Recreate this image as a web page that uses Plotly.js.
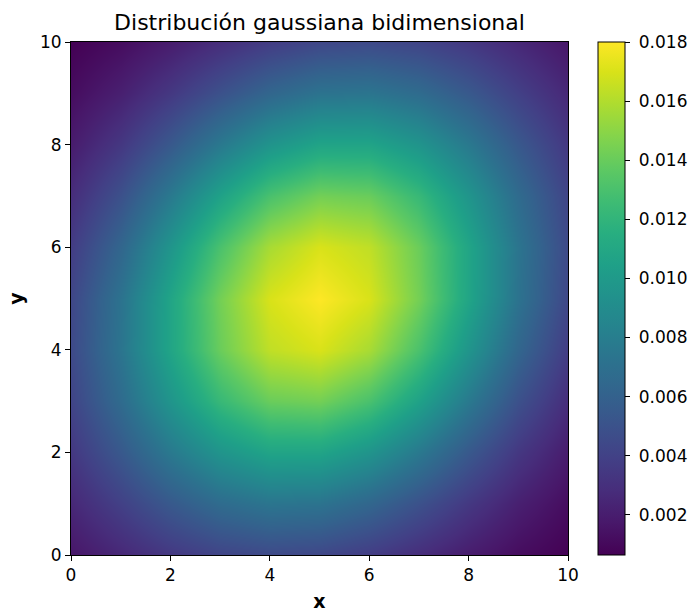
<!DOCTYPE html>
<html>
<head>
<meta charset="utf-8">
<script src="https://cdn.plot.ly/plotly-3.0.1.min.js"></script>
<style>html,body{margin:0;padding:0;background:#fff;}#chart{width:694px;height:612px;}</style>
</head>
<body>
<div id="chart"></div>
<script>
// grid coordinates
const xVals = [0,1,2,3,4,5,6,7,8,9,10];
const yVals = [0,1,2,3,4,5,6,7,8,9,10];
// density values, rows = y (0..10), cols = x (0..10)
const row0  = [0.001664,0.002531,0.003432,0.004152,0.004481,0.004314,0.003704,0.002837,0.001938,0.001181,0.000642];
const row1  = [0.002531,0.003922,0.005421,0.006685,0.007354,0.007215,0.006314,0.004929,0.003432,0.002132,0.001181];
const row2  = [0.003432,0.005421,0.007639,0.009601,0.010763,0.010763,0.009601,0.007639,0.005421,0.003432,0.001938];
const row3  = [0.004152,0.006685,0.009601,0.012298,0.014052,0.014322,0.013020,0.010560,0.007639,0.004929,0.002837];
const row4  = [0.004481,0.007354,0.010763,0.014052,0.016365,0.017000,0.015753,0.013020,0.009601,0.006314,0.003704];
const row5  = [0.004314,0.007215,0.010763,0.014322,0.017000,0.018000,0.017000,0.014322,0.010763,0.007215,0.004314];
const row6  = [0.003704,0.006314,0.009601,0.013020,0.015753,0.017000,0.016365,0.014052,0.010763,0.007354,0.004481];
const row7  = [0.002837,0.004929,0.007639,0.010560,0.013020,0.014322,0.014052,0.012298,0.009601,0.006685,0.004152];
const row8  = [0.001938,0.003432,0.005421,0.007639,0.009601,0.010763,0.010763,0.009601,0.007639,0.005421,0.003432];
const row9  = [0.001181,0.002132,0.003432,0.004929,0.006314,0.007215,0.007354,0.006685,0.005421,0.003922,0.002531];
const row10 = [0.000642,0.001181,0.001938,0.002837,0.003704,0.004314,0.004481,0.004152,0.003432,0.002531,0.001664];
const zRows = [row0,row1,row2,row3,row4,row5,row6,row7,row8,row9,row10];

const axisTicks = [0,2,4,6,8,10];
const cbTickVals = [0.002,0.004,0.006,0.008,0.010,0.012,0.014,0.016,0.018];
const cbTickText = ["0.002","0.004","0.006","0.008","0.010","0.012","0.014","0.016","0.018"];

const FONT = "DejaVu Sans, sans-serif";

const trace = {
  type: 'heatmap',
  x: xVals,
  y: yVals,
  z: zRows,
  zsmooth: 'best',
  colorscale: 'Viridis',
  colorbar: {
    x: 1.0604, xanchor: 'left', xref: 'paper',
    y: 0, yanchor: 'bottom', yref: 'paper',
    len: 1, lenmode: 'fraction',
    thickness: 27, thicknessmode: 'pixels',
    outlinewidth: 1, outlinecolor: '#000',
    ticks: 'outside', ticklen: 5, tickwidth: 1, tickcolor: '#000',
    tickvals: cbTickVals, ticktext: cbTickText.map(t => '\u00a0' + t),
    tickfont: {family: FONT, size: 17, color: '#000'},
    xpad: 0, ypad: 0
  },
  hoverinfo: 'none'
};

const axisCommon = {
  range: [0,10],
  showline: true, linecolor: '#000', linewidth: 1, mirror: true,
  ticks: 'outside', ticklen: 5, tickwidth: 1, tickcolor: '#000',
  tickvals: axisTicks,
  showgrid: false, zeroline: false,
  tickfont: {family: FONT, size: 17, color: '#000'}
};

const layout = {
  width: 694, height: 612,
  margin: {l: 71, r: 126, t: 42, b: 57, autoexpand: false},
  paper_bgcolor: '#fff', plot_bgcolor: '#fff',
  font: {family: FONT, color: '#000'},
  title: {
    text: 'Distribución gaussiana bidimensional',
    font: {family: FONT, size: 22, color: '#000'},
    x: 0.5, xref: 'paper', xanchor: 'center',
    y: 1 - 22/612, yref: 'container', yanchor: 'middle'
  },
  xaxis: Object.assign({}, axisCommon, {
    title: {text: '<b>x</b>', font: {family: FONT, size: 19, color: '#000'}, standoff: 17}
  }),
  yaxis: Object.assign({}, axisCommon, {
    title: {text: '<b>y</b>', font: {family: FONT, size: 19, color: '#000'}, standoff: 11}
  })
};

Plotly.newPlot('chart', [trace], layout, {staticPlot: true, displayModeBar: false});
</script>
</body>
</html>
